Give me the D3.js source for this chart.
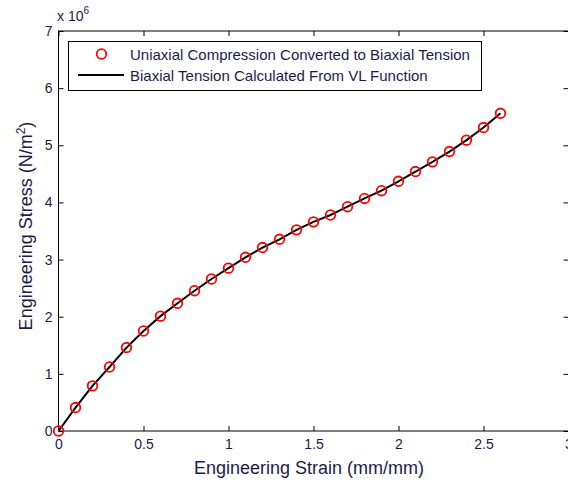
<!DOCTYPE html>
<html>
<head>
<meta charset="utf-8">
<script src="https://cdn.jsdelivr.net/npm/d3@7"></script>
<style>
  html, body { margin: 0; padding: 0; background: #fff; }
  svg { display: block; font-family: Arial, "Liberation Sans", sans-serif; }
</style>
</head>
<body>
<svg id="chart" width="568" height="482"></svg>
<script>
// Strain values (mm/mm)
const strain = [0, 0.1, 0.2, 0.3, 0.4, 0.5, 0.6, 0.7, 0.8, 0.9, 1.0, 1.1, 1.2, 1.3,
  1.4, 1.5, 1.6, 1.7, 1.8, 1.9, 2.0, 2.1, 2.2, 2.3, 2.4, 2.5, 2.6];
// Uniaxial compression converted to biaxial tension (x 10^6 N/m^2)
const convertedStress = [0, 0.41, 0.79, 1.12, 1.46, 1.75, 2.01, 2.235, 2.455, 2.66, 2.85,
  3.04, 3.21, 3.355, 3.52, 3.66, 3.78, 3.925, 4.07, 4.205, 4.37, 4.54, 4.71, 4.89, 5.09, 5.31, 5.56];
// Biaxial tension from VL function (x 10^6 N/m^2)
const vlStress = [0, 0.41, 0.79, 1.12, 1.46, 1.75, 2.01, 2.235, 2.455, 2.66, 2.85,
  3.04, 3.21, 3.355, 3.52, 3.66, 3.78, 3.925, 4.07, 4.205, 4.37, 4.54, 4.71, 4.89, 5.09, 5.31, 5.56];
const xTicks = [0, 0.5, 1, 1.5, 2, 2.5, 3];
const yTicks = [0, 1, 2, 3, 4, 5, 6, 7];
const legendLabels = ["Uniaxial Compression Converted to Biaxial Tension",
  "Biaxial Tension Calculated From VL Function"];

const svg = d3.select("#chart");
const pLeft = 58.5, pRight = 568.5, pTop = 31, pBottom = 431;
const x = d3.scaleLinear().domain([0, 3]).range([pLeft, pRight]);
const y = d3.scaleLinear().domain([0, 7]).range([pBottom, pTop]);
const textColor = "#1c1c4c";
const tickLen = 5;

// Axes box
const g = svg.append("g");
g.append("rect").attr("x", pLeft).attr("y", pTop)
  .attr("width", pRight - pLeft).attr("height", pBottom - pTop)
  .attr("fill", "none").attr("stroke", "#000").attr("stroke-width", 1);

// Bottom axis with inward ticks
const xAxis = d3.axisBottom(x).tickValues(xTicks).tickSize(-tickLen).tickPadding(8)
  .tickFormat(d3.format("~g"));
const xa = g.append("g").attr("transform", `translate(0,${pBottom})`).call(xAxis);
// Left axis with inward ticks
const yAxis = d3.axisLeft(y).tickValues(yTicks).tickSize(-tickLen).tickPadding(6)
  .tickFormat(d3.format("~g"));
const ya = g.append("g").attr("transform", `translate(${pLeft},0)`).call(yAxis);
// Top and right ticks, no labels
const xt = g.append("g").attr("transform", `translate(0,${pTop})`)
  .call(d3.axisTop(x).tickValues(xTicks).tickSize(-tickLen).tickFormat(""));
const yr = g.append("g").attr("transform", `translate(${pRight},0)`)
  .call(d3.axisRight(y).tickValues(yTicks).tickSize(-tickLen).tickFormat(""));

[xa, ya, xt, yr].forEach(a => {
  a.select(".domain").remove();
  a.selectAll(".tick line").attr("stroke", "#000");
  a.selectAll(".tick text").attr("fill", textColor)
    .style("font-size", "14px").style("font-family", "Arial, 'Liberation Sans', sans-serif");
});

// Exponent label
const expo = svg.append("text").attr("x", 57).attr("y", 21).attr("fill", textColor)
  .style("font-size", "14px");
expo.append("tspan").text("x 10");
expo.append("tspan").attr("dy", -7).style("font-size", "10px").text("6");

// Axis titles
svg.append("text").attr("x", 309).attr("y", 474)
  .attr("text-anchor", "middle").attr("fill", textColor)
  .style("font-size", "18px").text("Engineering Strain (mm/mm)");
const yl = svg.append("text")
  .attr("transform", `translate(32,226) rotate(-90)`)
  .attr("text-anchor", "middle").attr("fill", textColor).style("font-size", "18px");
yl.append("tspan").text("Engineering Stress (N/m");
yl.append("tspan").attr("dy", -7).style("font-size", "12px").text("2");
yl.append("tspan").attr("dy", 7).text(")");

// VL function curve
const line = d3.line().x((d, i) => x(strain[i])).y(d => y(d));
g.append("path").datum(vlStress).attr("d", line)
  .attr("fill", "none").attr("stroke", "#000").attr("stroke-width", 2);

// Converted data markers
g.selectAll("circle.pt").data(convertedStress).join("circle")
  .attr("class", "pt")
  .attr("cx", (d, i) => x(strain[i])).attr("cy", d => y(d)).attr("r", 4.8)
  .attr("fill", "none").attr("stroke", "#ff0000").attr("stroke-width", 1.8);

// Legend
const lg = svg.append("g");
lg.append("rect").attr("x", 68.5).attr("y", 41.5).attr("width", 413).attr("height", 49)
  .attr("fill", "#fff").attr("stroke", "#000").attr("stroke-width", 1);
lg.append("circle").attr("cx", 101.5).attr("cy", 54).attr("r", 4.8)
  .attr("fill", "none").attr("stroke", "#ff0000").attr("stroke-width", 1.8);
lg.append("line").attr("x1", 78).attr("x2", 124).attr("y1", 75).attr("y2", 75)
  .attr("stroke", "#000").attr("stroke-width", 2);
lg.selectAll("text.lab").data(legendLabels).join("text").attr("class", "lab")
  .attr("x", 130).attr("y", (d, i) => 59.5 + i * 21)
  .attr("fill", textColor).style("font-size", "15px").text(d => d);
</script>
</body>
</html>
